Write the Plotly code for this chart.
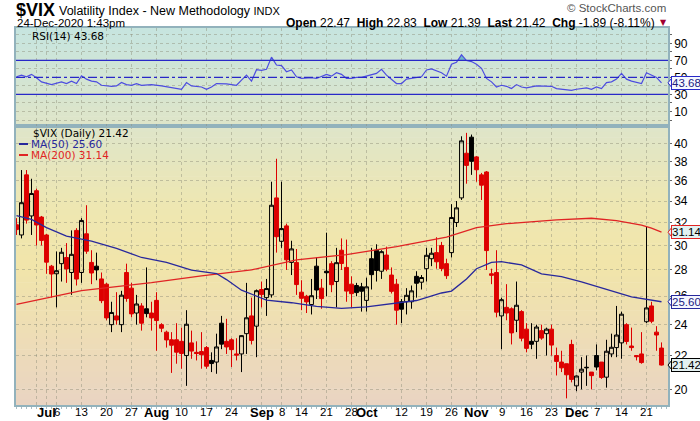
import math
import plotly.graph_objects as go

# ---------------- data ----------------
dates = ["2020-06-23","2020-06-24","2020-06-25","2020-06-26","2020-06-29","2020-06-30","2020-07-01","2020-07-02",
         "2020-07-06","2020-07-07","2020-07-08","2020-07-09","2020-07-10","2020-07-13","2020-07-14","2020-07-15",
         "2020-07-16","2020-07-17","2020-07-20","2020-07-21","2020-07-22","2020-07-23","2020-07-24","2020-07-27",
         "2020-07-28","2020-07-29","2020-07-30","2020-07-31","2020-08-03","2020-08-04","2020-08-05","2020-08-06",
         "2020-08-07","2020-08-10","2020-08-11","2020-08-12","2020-08-13","2020-08-14","2020-08-17","2020-08-18",
         "2020-08-19","2020-08-20","2020-08-21","2020-08-24","2020-08-25","2020-08-26","2020-08-27","2020-08-28",
         "2020-08-31","2020-09-01","2020-09-02","2020-09-03","2020-09-04","2020-09-08","2020-09-09","2020-09-10",
         "2020-09-11","2020-09-14","2020-09-15","2020-09-16","2020-09-17","2020-09-18","2020-09-21","2020-09-22",
         "2020-09-23","2020-09-24","2020-09-25","2020-09-28","2020-09-29","2020-09-30","2020-10-01","2020-10-02",
         "2020-10-05","2020-10-06","2020-10-07","2020-10-08","2020-10-09","2020-10-12","2020-10-13","2020-10-14",
         "2020-10-15","2020-10-16","2020-10-19","2020-10-20","2020-10-21","2020-10-22","2020-10-23","2020-10-26",
         "2020-10-27","2020-10-28","2020-10-29","2020-10-30","2020-11-02","2020-11-03","2020-11-04","2020-11-05",
         "2020-11-06","2020-11-09","2020-11-10","2020-11-11","2020-11-12","2020-11-13","2020-11-16","2020-11-17",
         "2020-11-18","2020-11-19","2020-11-20","2020-11-23","2020-11-24","2020-11-25","2020-11-27","2020-11-30",
         "2020-12-01","2020-12-02","2020-12-03","2020-12-04","2020-12-07","2020-12-08","2020-12-09","2020-12-10",
         "2020-12-11","2020-12-14","2020-12-15","2020-12-16","2020-12-17","2020-12-18","2020-12-21","2020-12-22",
         "2020-12-23","2020-12-24"]

opens = [31.8,30.9,36.6,32.6,35.0,32.5,30.9,28.3,
         27.7,28.5,29.0,27.8,31.3,27.8,31.0,28.6,
         28.3,27.3,26.9,24.0,24.6,24.0,27.8,26.6,
         24.8,25.3,25.1,24.8,25.7,24.0,23.5,23.0,
         23.0,22.9,22.0,22.8,22.2,22.25,22.5,21.7,
         21.6,24.1,22.9,23.0,22.1,22.1,23.4,24.6,
         23.9,26.5,25.9,26.1,34.3,30.35,31.7,28.6,
         28.6,26.3,26.0,25.4,28.3,26.6,27.9,28.5,
         27.1,29.6,28.2,26.9,26.8,26.7,25.7,28.9,
         29.6,27.9,29.2,27.6,26.9,25.6,25.6,25.6,
         27.5,27.05,28.1,28.9,29.4,30.0,28.5,29.4,
         32.0,34.3,38.9,40.7,38.5,36.6,36.9,27.7,
         27.8,24.6,25.2,25.1,24.3,24.9,23.7,22.9,
         22.9,23.6,23.4,23.7,22.0,21.6,21.5,22.7,
         20.2,21.0,21.25,21.0,22.0,21.6,20.7,22.1,
         22.5,22.8,24.0,22.6,22.0,22.1,24.2,25.3,
         23.5,22.47]

highs = [32.4,37.1,37.1,36.2,35.2,32.6,31.0,28.4,
         29.5,29.8,30.2,31.3,31.5,32.4,33.6,29.6,
         29.4,27.8,27.0,25.6,26.3,26.4,28.5,27.0,
         26.1,25.5,28.2,25.6,26.3,24.1,23.6,23.5,
         24.1,23.8,25.0,23.6,22.9,23.5,22.6,22.2,
         23.4,24.6,24.4,23.1,23.1,23.3,27.0,25.9,
         26.5,27.1,27.3,35.9,38.3,35.9,31.9,30.4,
         29.7,27.2,26.1,27.3,29.0,27.3,31.1,28.7,
         29.8,30.6,30.5,27.5,27.0,27.0,27.4,29.8,
         30.1,29.6,29.9,28.2,27.3,25.8,26.6,26.8,
         27.9,27.6,29.8,29.8,30.7,30.3,28.9,33.7,
         34.0,40.8,41.2,41.0,38.6,36.8,37.0,28.1,
         29.6,25.9,26.9,25.2,27.1,25.0,24.1,24.1,
         24.0,24.0,23.8,24.0,22.5,22.3,21.5,23.0,
         20.8,21.9,22.0,21.0,22.7,21.6,23.0,23.4,
         25.3,24.9,24.1,23.8,22.0,23.5,31.6,25.6,
         23.9,22.83]

lows = [30.9,30.6,31.9,30.9,30.0,30.0,27.7,25.9,
        25.2,27.1,27.0,26.1,26.8,27.0,29.3,26.9,
        27.2,25.5,24.3,23.5,24.0,23.5,25.6,24.5,
        24.0,23.6,24.5,23.6,22.3,23.5,22.5,20.95,
        21.5,21.2,20.2,21.8,21.7,21.2,21.2,21.0,
        20.9,22.4,22.1,21.3,21.7,21.0,22.1,22.7,
        21.9,25.2,24.6,25.9,29.4,29.8,28.0,27.6,
        26.1,25.0,24.8,24.7,25.8,25.1,26.0,26.3,
        25.2,28.0,25.6,25.2,26.0,24.9,24.9,26.5,
        27.1,27.3,27.9,26.2,24.0,24.1,24.7,25.1,
        25.9,26.5,27.1,28.3,28.1,27.9,27.3,29.0,
        31.6,34.1,35.7,36.6,35.9,34.1,28.0,26.9,
        24.5,22.4,24.3,22.7,23.5,22.9,22.2,22.4,
        21.8,23.0,22.0,22.0,20.8,21.0,19.5,20.4,
        19.9,20.0,20.2,20.0,21.1,20.6,20.1,21.9,
        21.9,21.8,22.7,22.3,21.7,21.5,24.1,24.1,
        22.3,21.39]

closes = [31.37,33.84,32.22,34.73,31.78,30.43,28.62,27.68,
          27.94,29.43,28.08,29.26,27.29,32.19,29.52,27.76,
          28.00,25.68,24.46,24.84,24.32,26.08,25.84,24.74,
          25.44,24.10,24.76,24.46,24.28,23.76,22.99,22.65,
          22.21,22.13,24.03,22.28,22.13,22.05,21.35,21.51,
          22.54,22.72,22.54,22.37,22.03,23.27,24.47,22.96,
          26.41,26.12,26.57,33.60,30.75,31.46,28.81,29.71,
          26.87,25.85,25.59,26.04,26.46,25.83,27.78,26.86,
          28.58,28.51,26.38,26.19,26.27,26.37,26.70,27.63,
          27.96,29.48,28.06,26.36,25.00,25.07,26.07,26.40,
          26.97,27.41,29.18,29.35,28.65,28.11,27.55,32.46,
          33.35,40.28,37.59,38.02,37.13,35.55,29.57,27.58,
          24.86,25.75,24.80,23.45,25.35,23.10,22.45,22.71,
          23.84,23.11,23.70,22.66,21.64,21.25,20.84,20.57,
          20.77,21.17,21.28,20.79,21.30,20.68,22.27,22.52,
          23.31,24.72,22.89,22.50,21.93,21.57,25.16,24.23,
          23.31,21.42]

ma50_dates = ["2020-06-23","2020-06-26","2020-07-01","2020-07-08","2020-07-15","2020-07-22","2020-07-29",
              "2020-08-05","2020-08-12","2020-08-19","2020-08-21","2020-08-26","2020-09-02","2020-09-10",
              "2020-09-17","2020-09-24","2020-10-01","2020-10-08","2020-10-15","2020-10-22","2020-10-26",
              "2020-10-29","2020-11-02","2020-11-05","2020-11-09","2020-11-13","2020-11-19","2020-11-25",
              "2020-12-02","2020-12-09","2020-12-16","2020-12-24"]
ma50_vals = [32.63,32.28,31.54,30.80,30.37,29.76,29.00,
             28.60,27.99,27.72,27.25,26.45,25.72,25.53,
             25.27,25.13,25.24,25.49,25.69,26.24,26.38,
             27.30,28.10,28.60,28.66,28.40,27.70,27.48,
             27.08,26.50,25.95,25.60]

ma200_dates = ["2020-06-23","2020-07-13","2020-07-31","2020-08-14","2020-08-28","2020-09-11","2020-09-25",
               "2020-10-09","2020-10-23","2020-11-02","2020-11-10","2020-11-24","2020-12-04","2020-12-11",
               "2020-12-18","2020-12-22","2020-12-24"]
ma200_vals = [25.41,26.42,27.01,27.53,28.00,28.80,29.24,
              29.91,30.72,31.55,31.90,32.25,32.39,32.18,
              31.77,31.50,31.14]

rsi_dates = ["2020-06-23","2020-06-24","2020-06-25","2020-06-26","2020-06-29","2020-06-30","2020-07-02",
             "2020-07-06","2020-07-07","2020-07-08","2020-07-09","2020-07-10","2020-07-13","2020-07-14",
             "2020-07-15","2020-07-16","2020-07-17","2020-07-21","2020-07-22","2020-07-23","2020-07-24",
             "2020-07-27","2020-07-28","2020-07-29","2020-07-30","2020-07-31","2020-08-04","2020-08-05",
             "2020-08-06","2020-08-10","2020-08-11","2020-08-12","2020-08-14","2020-08-17","2020-08-18",
             "2020-08-19","2020-08-21","2020-08-25","2020-08-26","2020-08-27","2020-08-28","2020-08-31",
             "2020-09-01","2020-09-02","2020-09-03","2020-09-04","2020-09-08","2020-09-09","2020-09-10",
             "2020-09-11","2020-09-14","2020-09-16","2020-09-17","2020-09-18","2020-09-21","2020-09-22",
             "2020-09-23","2020-09-24","2020-09-25","2020-09-28","2020-09-29","2020-09-30","2020-10-02",
             "2020-10-05","2020-10-06","2020-10-07","2020-10-09","2020-10-12","2020-10-13","2020-10-15",
             "2020-10-16","2020-10-19","2020-10-20","2020-10-22","2020-10-23","2020-10-26","2020-10-27",
             "2020-10-28","2020-10-29","2020-10-30","2020-11-02","2020-11-03","2020-11-04","2020-11-05",
             "2020-11-06","2020-11-09","2020-11-10","2020-11-11","2020-11-12","2020-11-13","2020-11-16",
             "2020-11-18","2020-11-20","2020-11-23","2020-11-24","2020-11-27","2020-11-30","2020-12-01",
             "2020-12-03","2020-12-04","2020-12-07","2020-12-08","2020-12-09","2020-12-10","2020-12-11",
             "2020-12-14","2020-12-15","2020-12-16","2020-12-18","2020-12-21","2020-12-22","2020-12-23",
             "2020-12-24"]
rsi_vals = [50.8,52.7,50.8,53.6,49.6,44.8,41.6,
            42.8,44.8,42.8,45.6,42.8,51.9,48.0,
            45.6,44.8,40.8,39.6,40.0,44.0,41.6,
            40.8,42.8,40.8,41.6,41.6,40.0,38.8,
            37.7,36.1,44.0,40.0,38.8,36.1,38.8,
            42.8,42.4,40.8,46.8,52.7,45.6,59.1,
            58.3,59.5,73.8,64.6,63.8,56.7,58.7,
            50.8,48.8,49.6,48.8,50.8,53.6,51.5,
            55.5,53.6,48.8,48.8,50.0,50.0,53.5,
            54.7,59.5,52.7,42.8,42.8,48.0,50.0,
            50.8,58.7,59.9,55.5,51.5,65.4,67.8,
            76.5,69.8,68.6,65.4,60.7,48.8,44.8,
            38.8,40.8,39.6,36.9,41.6,38.8,37.7,
            40.0,40.0,39.6,36.9,35.7,34.9,36.1,
            37.7,36.1,38.8,36.9,44.0,44.8,48.0,
            54.7,48.0,45.6,42.8,55.5,52.7,50.0,
            43.68]

tick_dates = ["2020-06-29","2020-07-01","2020-07-06","2020-07-13","2020-07-20","2020-07-27","2020-08-03",
              "2020-08-10","2020-08-17","2020-08-24","2020-09-01","2020-09-08","2020-09-14","2020-09-21",
              "2020-09-28","2020-10-01","2020-10-12","2020-10-19","2020-10-26","2020-11-02","2020-11-09",
              "2020-11-16","2020-11-23","2020-12-01","2020-12-07","2020-12-14","2020-12-21"]
tick_labels = ["","Jul","6","13","20","27","Aug",
               "10","17","24","Sep","8","14","21",
               "28","Oct","12","19","26","Nov","9",
               "16","23","Dec","7","14","21"]
month_labels = ["Jul", "Aug", "Sep", "Oct", "Nov", "Dec"]

price_ticks = [20, 22, 24, 26, 28, 30, 32, 34, 36, 38, 40]
rsi_ticks = [0, 10, 20, 30, 40, 50, 60, 70, 80, 90, 100]
rsi_tick_labels = ["", "10", "", "30", "", "50", "", "70", "", "90", ""]

# ---------------- layout helpers ----------------
W, H = 700, 421
L, R, T, B = 16, 668, 28, 405
SPLIT = 126  # pixel y of the border between RSI panel and price panel
main_top = (B - SPLIT) / (B - T)

def pxx(x):
    return (x - L) / (R - L)

def pyy(y):
    return (B - y) / (B - T)

idx = {d: i for i, d in enumerate(dates)}
n = len(dates)
xi = list(range(n))

RED = "#dd0000"
BLACK = "#000000"

fig = go.Figure()

# candles: black when close >= previous close, red otherwise; hollow when close > open
black_idx = [i for i in range(n) if i > 0 and closes[i] >= closes[i - 1]]
red_idx = [i for i in range(n) if not (i > 0 and closes[i] >= closes[i - 1])]

def candle(ids, color):
    return go.Candlestick(
        x=[xi[i] for i in ids],
        open=[opens[i] for i in ids], high=[highs[i] for i in ids],
        low=[lows[i] for i in ids], close=[closes[i] for i in ids],
        increasing=dict(line=dict(color=color, width=1), fillcolor="rgba(0,0,0,0)"),
        decreasing=dict(line=dict(color=color, width=1), fillcolor=color),
        whiskerwidth=0, showlegend=False, hoverinfo="skip", xaxis="x", yaxis="y")

fig.add_trace(candle(black_idx, BLACK))
fig.add_trace(candle(red_idx, RED))

fig.add_trace(go.Scatter(x=[idx[d] for d in ma200_dates], y=ma200_vals, mode="lines",
                         line=dict(color="#e02424", width=1.3), showlegend=False,
                         hoverinfo="skip", xaxis="x", yaxis="y"))
fig.add_trace(go.Scatter(x=[idx[d] for d in ma50_dates], y=ma50_vals, mode="lines",
                         line=dict(color="#28289c", width=1.3), showlegend=False,
                         hoverinfo="skip", xaxis="x", yaxis="y"))

# RSI overbought fill (above 70)
rx = [idx[d] for d in rsi_dates]
ry = rsi_vals
LV = 70
polys = []
cur = None
for k in range(len(rx)):
    if k > 0:
        x0, y0, x1, y1 = rx[k - 1], ry[k - 1], rx[k], ry[k]
        if (y0 - LV) * (y1 - LV) < 0:
            xc = x0 + (LV - y0) * (x1 - x0) / (y1 - y0)
            if y1 > LV:
                cur = [(xc, LV)]
            else:
                if cur is not None:
                    cur.append((xc, LV))
                    polys.append(cur)
                cur = None
    if ry[k] > LV and cur is not None:
        cur.append((rx[k], ry[k]))
for p in polys:
    fig.add_trace(go.Scatter(x=[q[0] for q in p] + [p[0][0]], y=[q[1] for q in p] + [p[0][1]],
                             mode="lines", fill="toself", fillcolor="rgba(96,176,196,0.85)",
                             line=dict(width=0), showlegend=False, hoverinfo="skip",
                             xaxis="x2", yaxis="y2"))

fig.add_trace(go.Scatter(x=rx, y=ry, mode="lines", line=dict(color="#4c4ce0", width=1.2),
                         showlegend=False, hoverinfo="skip", xaxis="x2", yaxis="y2"))

# ---------------- background gradients ----------------
def lerp_color(stops, f):
    for (f0, c0), (f1, c1) in zip(stops[:-1], stops[1:]):
        if f0 <= f <= f1:
            t = (f - f0) / (f1 - f0) if f1 > f0 else 0
            return "rgb(%d,%d,%d)" % tuple(round(a + (b - a) * t) for a, b in zip(c0, c1))
    return "rgb(%d,%d,%d)" % stops[-1][1]

main_stops = [(0.0, (222, 229, 202)), (0.28, (238, 231, 178)), (0.5, (241, 229, 170)),
              (0.75, (238, 221, 182)), (1.0, (233, 212, 194))]
rsi_stops = [(0.0, (198, 229, 224)), (1.0, (223, 229, 200))]

shapes = []
def gradient(top_px, bot_px, stops, nstripes):
    h = (bot_px - top_px) / nstripes
    for s in range(nstripes):
        y_top = top_px + s * h
        y_bot = y_top + h + 0.6
        col = lerp_color(stops, (s + 0.5) / nstripes)
        shapes.append(dict(type="rect", xref="paper", yref="paper", x0=0, x1=1,
                           y0=pyy(min(y_bot, bot_px)), y1=pyy(y_top), fillcolor=col,
                           line=dict(width=0), layer="below"))

gradient(T, SPLIT, rsi_stops, 20)
gradient(SPLIT, B, main_stops, 50)

# RSI level lines
for lvl, dash in [(70, "solid"), (30, "solid"), (50, "dashdot")]:
    shapes.append(dict(type="line", xref="paper", x0=0, x1=1, yref="y2", y0=lvl, y1=lvl,
                       line=dict(color="#2828c8", width=1.2, dash=dash), layer="above"))

# legend line markers
shapes.append(dict(type="line", xref="paper", yref="paper", x0=pxx(19), x1=pxx(28),
                   y0=pyy(144), y1=pyy(144), line=dict(color="#28289c", width=2)))
shapes.append(dict(type="line", xref="paper", yref="paper", x0=pxx(19), x1=pxx(28),
                   y0=pyy(155), y1=pyy(155), line=dict(color="#e02424", width=2)))

# ---------------- annotations ----------------
ann = []
HDR = "Liberation Sans"
TXT = "DejaVu Sans"
ann.append(dict(text="<b>$VIX</b>", x=pxx(14), y=pyy(10), xanchor="left", yanchor="middle",
                font=dict(family=HDR, size=18, color="black")))
ann.append(dict(text="Volatility Index - New Methodology <span style='font-size:11px'>INDX</span>",
                x=pxx(57), y=pyy(11), xanchor="left", yanchor="middle",
                font=dict(family=HDR, size=12.5, color="black")))
ann.append(dict(text="24-Dec-2020 1:43pm", x=pxx(15), y=pyy(23), xanchor="left", yanchor="middle",
                font=dict(family=HDR, size=11.5, color="black")))
chg = closes[-1] - closes[-2]
pct = chg / closes[-2] * 100
ann.append(dict(text=("<b>Open</b> %.2f  <b>High</b> %.2f  <b>Low</b> %.2f  <b>Last</b> %.2f  "
                      "<b>Chg</b> %.2f (%.2f%%)") % (opens[-1], highs[-1], lows[-1], closes[-1], chg, pct),
                x=pxx(657), y=pyy(22.5), xanchor="right", yanchor="middle",
                font=dict(family=HDR, size=12, color="black")))
ann.append(dict(text="▼", x=pxx(663), y=pyy(22.5), xanchor="center", yanchor="middle",
                font=dict(family=TXT, size=8, color="#a00030")))
ann.append(dict(text="© StockCharts.com", x=pxx(668), y=pyy(8), xanchor="right", yanchor="middle",
                font=dict(family=HDR, size=11.5, color="#555555")))

ann.append(dict(text="RSI(14) %.2f" % rsi_vals[-1], x=pxx(30), y=pyy(36), xanchor="left",
                yanchor="middle", font=dict(family=TXT, size=10.5, color="black")))
ann.append(dict(text="$VIX (Daily) %.2f" % closes[-1], x=pxx(31), y=pyy(133), xanchor="left",
                yanchor="middle", font=dict(family=TXT, size=10.5, color="black")))
ann.append(dict(text="MA(50) %.2f" % ma50_vals[-1], x=pxx(29), y=pyy(144), xanchor="left",
                yanchor="middle", font=dict(family=TXT, size=10.5, color="#28289c")))
ann.append(dict(text="MA(200) %.2f" % ma200_vals[-1], x=pxx(29), y=pyy(155), xanchor="left",
                yanchor="middle", font=dict(family=TXT, size=10.5, color="#e02424")))

# x-axis date labels (numbers regular, month names bold)
for d, lab in zip(tick_dates, tick_labels):
    if not lab:
        continue
    is_month = lab in month_labels
    ann.append(dict(text=("<b>%s</b>" % lab) if is_month else lab, x=idx[d], xref="x",
                    y=pyy(412), yref="paper", xanchor="center", yanchor="middle",
                    font=dict(family=HDR, size=13 if is_month else 11.5, color="black")))

# value tags on the right edge
def tag(val, yref, yval, border, bg, fc):
    ann.append(dict(text="%.2f" % val, x=pxx(671), y=yval, xref="paper", yref=yref,
                    xanchor="left", yanchor="middle", showarrow=False,
                    font=dict(family=HDR, size=11.5, color=fc), bgcolor=bg,
                    bordercolor=border, borderwidth=1, borderpad=0))
    shapes.append(dict(type="path", xref="paper", xsizemode="pixel", xanchor=1.0,
                       yref=yref, ysizemode="pixel", yanchor=(10 ** yval if yref == "y" else yval),
                       path="M0,0 L4,5 L4,-5 Z", fillcolor=bg, line=dict(color=border, width=1)))

tag(rsi_vals[-1], "y2", rsi_vals[-1], "#2828c8", "#f4f8ff", "#202080")
tag(ma200_vals[-1], "y", math.log10(ma200_vals[-1]), "#e02424", "#e2f2f2", "black")
tag(ma50_vals[-1], "y", math.log10(ma50_vals[-1]), "#28289c", "#f4f6ff", "#202080")
tag(closes[-1], "y", math.log10(closes[-1]), "#000000", "#e4f0f0", "black")

for a in ann:
    a.setdefault("xref", "paper")
    a.setdefault("yref", "paper")
    a.setdefault("showarrow", False)

# ---------------- axes ----------------
BORDER = "#92b2bc"
GRID = "rgba(140,140,120,0.45)"
tickvals_x = [idx[d] for d in tick_dates]

fig.update_layout(
    template="none",
    width=W, height=H, autosize=False,
    margin=dict(l=L, r=W - R, t=T, b=H - B, pad=0, autoexpand=False),
    paper_bgcolor="white", plot_bgcolor="rgba(0,0,0,0)",
    showlegend=False, boxgap=0.12, boxgroupgap=0.12,
    shapes=shapes, annotations=ann,
    xaxis=dict(domain=[0, 1], anchor="y", range=[-0.1, 130.3], tickmode="array", automargin=False,
               tickvals=tickvals_x, showticklabels=False, showgrid=True, gridcolor=GRID,
               griddash="3px,3px", gridwidth=1, showline=True, linecolor=BORDER, mirror=True,
               linewidth=1.5, ticks="", rangeslider=dict(visible=False),
               zeroline=False, minor=dict(dtick=1, ticks="outside", ticklen=2, tickcolor="#a8bcc4",
                                          showgrid=False)),
    yaxis=dict(domain=[0, main_top], anchor="x", type="log", automargin=False,
               range=[math.log10(19.14), math.log10(42.0)], side="right", tickmode="array",
               tickvals=price_ticks, ticktext=[str(v) for v in price_ticks], showgrid=True,
               gridcolor=GRID, griddash="3px,3px", showline=True, linecolor=BORDER, mirror=True,
               linewidth=1.5, ticks="outside", ticklen=2, tickcolor="#666",
               tickfont=dict(family=HDR, size=12, color="black"), zeroline=False),
    xaxis2=dict(domain=[0, 1], anchor="y2", matches="x", range=[-0.1, 130.3], tickmode="array",
                automargin=False,
                tickvals=tickvals_x, showticklabels=False, showgrid=True, gridcolor=GRID,
                griddash="3px,3px", showline=True, linecolor=BORDER, mirror=True, linewidth=1.5,
                ticks="", zeroline=False),
    yaxis2=dict(domain=[main_top, 1], anchor="x2", range=[-7, 108], side="right", automargin=False,
                tickmode="array", tickvals=rsi_ticks, ticktext=rsi_tick_labels, showgrid=True,
                gridcolor=GRID, griddash="3px,3px", showline=True, linecolor=BORDER, mirror=True,
                linewidth=1.5, ticks="outside", ticklen=2, tickcolor="#666",
                tickfont=dict(family=HDR, size=12, color="black"), zeroline=False),
)

fig.write_html("out.html", config={"displayModeBar": False},
               post_script="document.body.style.margin='0';")
